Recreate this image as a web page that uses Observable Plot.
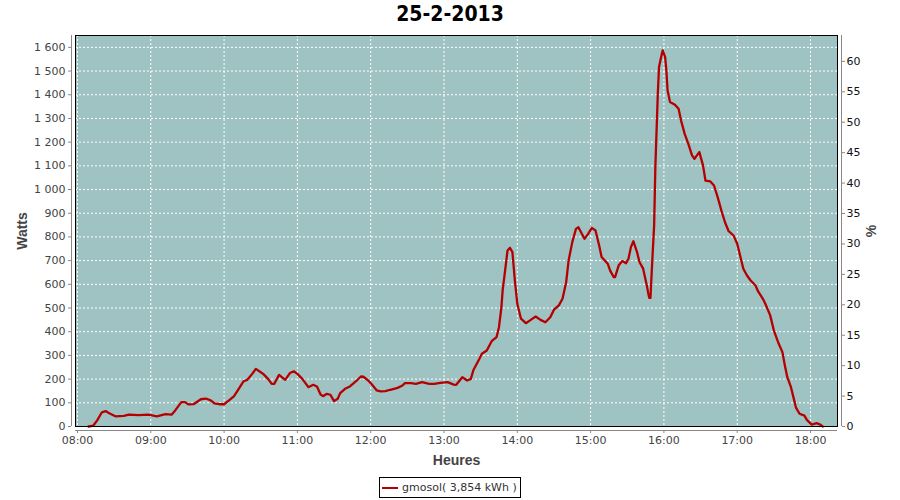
<!DOCTYPE html>
<html>
<head>
<meta charset="utf-8">
<script src="https://cdn.jsdelivr.net/npm/d3@7"></script>
<script src="https://cdn.jsdelivr.net/npm/@observablehq/plot@0.6"></script>
<style>
  html, body { margin: 0; padding: 0; background: #fff; }
  #wrap { width: 900px; height: 500px; position: relative; font-family: "DejaVu Sans", sans-serif; }
  #title { height: 28px; line-height: 28px; text-align: center; font-family: "DejaVu Sans Condensed", "DejaVu Sans", sans-serif; font-weight: bold; font-size: 21px; color: #000; }
  #chart svg { display: block; }
  #chart [aria-label="y-axis label"] text, #chart [aria-label="x-axis label"] text { font-family: "Liberation Sans", sans-serif; font-weight: bold; font-size: 14px; fill: #444; }
  #legend { margin: 5px auto 0 auto; width: 140px; height: 19px; border: 1px solid #000; display: flex; align-items: center; font-size: 11px; color: #333; }
  #legend .sw { width: 16px; height: 2px; background: #b40000; margin: 0 4px 0 2px; }
</style>
</head>
<body>
<div id="wrap">
  <div id="title"></div>
  <div id="chart"></div>
  <div id="legend"><span class="sw"></span><span id="legtext"></span></div>
</div>
<script>
const titleText = "25-2-2013";
const seriesName = "gmosol( 3,854 kWh )";
const yLabel = "Watts";
const y2Label = "%";
const xLabel = "Heures";

const times = ["08:09","08:13","08:16","08:20","08:23","08:26","08:31","08:38","08:42","08:50","08:58","09:05","09:12","09:17","09:20","09:25","09:28","09:31","09:35","09:41","09:45","09:49","09:52","09:56","10:00","10:04","10:08","10:12","10:16","10:19","10:23","10:26","10:30","10:32","10:36","10:39","10:41","10:45","10:50","10:54","10:57","11:00","11:04","11:09","11:13","11:16","11:19","11:21","11:24","11:27","11:30","11:33","11:35","11:39","11:43","11:48","11:52","11:54","11:58","12:01","12:05","12:08","12:12","12:16","12:22","12:26","12:28","12:33","12:37","12:42","12:48","12:52","12:57","13:03","13:08","13:10","13:15","13:19","13:22","13:24","13:29","13:31","13:35","13:39","13:43","13:45","13:47","13:48","13:50","13:52","13:54","13:56","13:58","14:00","14:03","14:07","14:11","14:15","14:19","14:23","14:27","14:30","14:34","14:37","14:40","14:42","14:45","14:48","14:50","14:55","14:58","15:01","15:04","15:07","15:09","15:14","15:16","15:19","15:20","15:23","15:26","15:29","15:31","15:33","15:35","15:38","15:40","15:43","15:46","15:47","15:48","15:49","15:50","15:52","15:53","15:55","15:56","15:58","15:59","16:01","16:02","16:03","16:05","16:09","16:12","16:14","16:17","16:20","16:23","16:25","16:27","16:29","16:32","16:34","16:38","16:41","16:44","16:47","16:50","16:53","16:57","17:00","17:03","17:05","17:08","17:11","17:15","17:17","17:21","17:23","17:27","17:30","17:34","17:37","17:39","17:41","17:44","17:46","17:48","17:51","17:55","17:57","18:01","18:05","18:08","18:10"];
const watts = [0,4,25,60,65,56,43,45,50,48,50,43,52,50,68,103,103,93,94,115,118,110,98,94,94,110,127,159,191,197,222,243,229,222,201,180,180,218,197,226,233,222,201,166,176,169,135,128,138,134,107,117,141,159,169,191,211,210,194,177,152,148,149,155,163,173,183,183,180,187,180,180,184,187,177,176,208,194,201,237,286,307,321,360,377,419,504,574,658,743,754,736,616,518,455,436,450,464,450,440,461,493,511,539,609,701,778,834,841,792,813,838,827,764,715,687,658,630,630,680,698,689,708,757,782,736,694,666,595,567,543,543,651,850,1095,1404,1517,1566,1587,1559,1503,1418,1369,1358,1341,1292,1235,1193,1144,1130,1144,1158,1102,1038,1034,1017,968,912,862,824,806,771,708,666,637,616,595,571,539,518,469,405,349,314,257,208,166,124,81,54,46,28,8,14,8,0];

const wattTicks = [0,100,200,300,400,500,600,700,800,900,1000,1100,1200,1300,1400,1500,1600];
const pctTicks = [0,5,10,15,20,25,30,35,40,45,50,55,60];
const hourTicks = [8,9,10,11,12,13,14,15,16,17,18];
const wattsPerPct = 25.68;   // right axis: 1 % of capacity in watts
const xDomain = [7.973, 18.368];
const yDomain = [0, 1650];

const toHours = s => { const [h, m] = s.split(":").map(Number); return h + m / 60; };
const data = times.map((t, i) => ({h: toHours(t), w: watts[i]}));

const fr = d3.formatLocale({decimal: ",", thousands: " ", grouping: [3], currency: ["", " €"]});
const fmtW = fr.format(",d");
const fmtH = h => String(h).padStart(2, "0") + ":00";

document.getElementById("title").textContent = titleText;
document.getElementById("legtext").textContent = seriesName;

const bg = "#9ec3c2";
const axisGray = "#888";

const chart = Plot.plot({
  width: 900,
  height: 444,
  marginLeft: 75,
  marginRight: 63,
  marginTop: 7,
  marginBottom: 46,
  style: {fontFamily: "DejaVu Sans, sans-serif", fontSize: "11px", color: "#444", background: "#fff"},
  x: {domain: xDomain},
  y: {domain: yDomain},
  marks: [
    Plot.frame({fill: bg}),
    Plot.gridY(wattTicks, {stroke: "#fff", strokeOpacity: 1, strokeDasharray: "2,2"}),
    Plot.gridX(hourTicks, {stroke: "#fff", strokeOpacity: 1, strokeDasharray: "2,2"}),
    Plot.line(data, {x: "h", y: "w", stroke: "#b40000", strokeWidth: 2.3}),
    Plot.frame({stroke: "#000", strokeWidth: 1}),
    Plot.ruleX([xDomain[0]], {dx: -4, stroke: axisGray}),
    Plot.ruleY([yDomain[0]], {dy: 4, stroke: axisGray}),
    Plot.ruleX([xDomain[1]], {dx: 4, stroke: axisGray}),
    Plot.axisY(wattTicks, {anchor: "left", dx: -4, tickSize: 3, tickPadding: 3, tickFormat: fmtW, stroke: axisGray,
      label: yLabel, labelAnchor: "center", labelArrow: "none", labelOffset: 58}),
    Plot.axisY(pctTicks.map(p => p * wattsPerPct), {anchor: "right", dx: 4, tickSize: 3, tickPadding: 2, fill: "#111",
      tickFormat: d => String(Math.round(d / wattsPerPct)), stroke: axisGray,
      label: y2Label, labelAnchor: "center", labelArrow: "none", labelOffset: 38}),
    Plot.axisX(hourTicks, {anchor: "bottom", dy: 4, tickSize: 3, tickPadding: 3, tickFormat: fmtH, stroke: axisGray,
      label: xLabel, labelAnchor: "center", labelArrow: "none", labelOffset: 38})
  ]
});
document.getElementById("chart").appendChild(chart);
</script>
</body>
</html>
